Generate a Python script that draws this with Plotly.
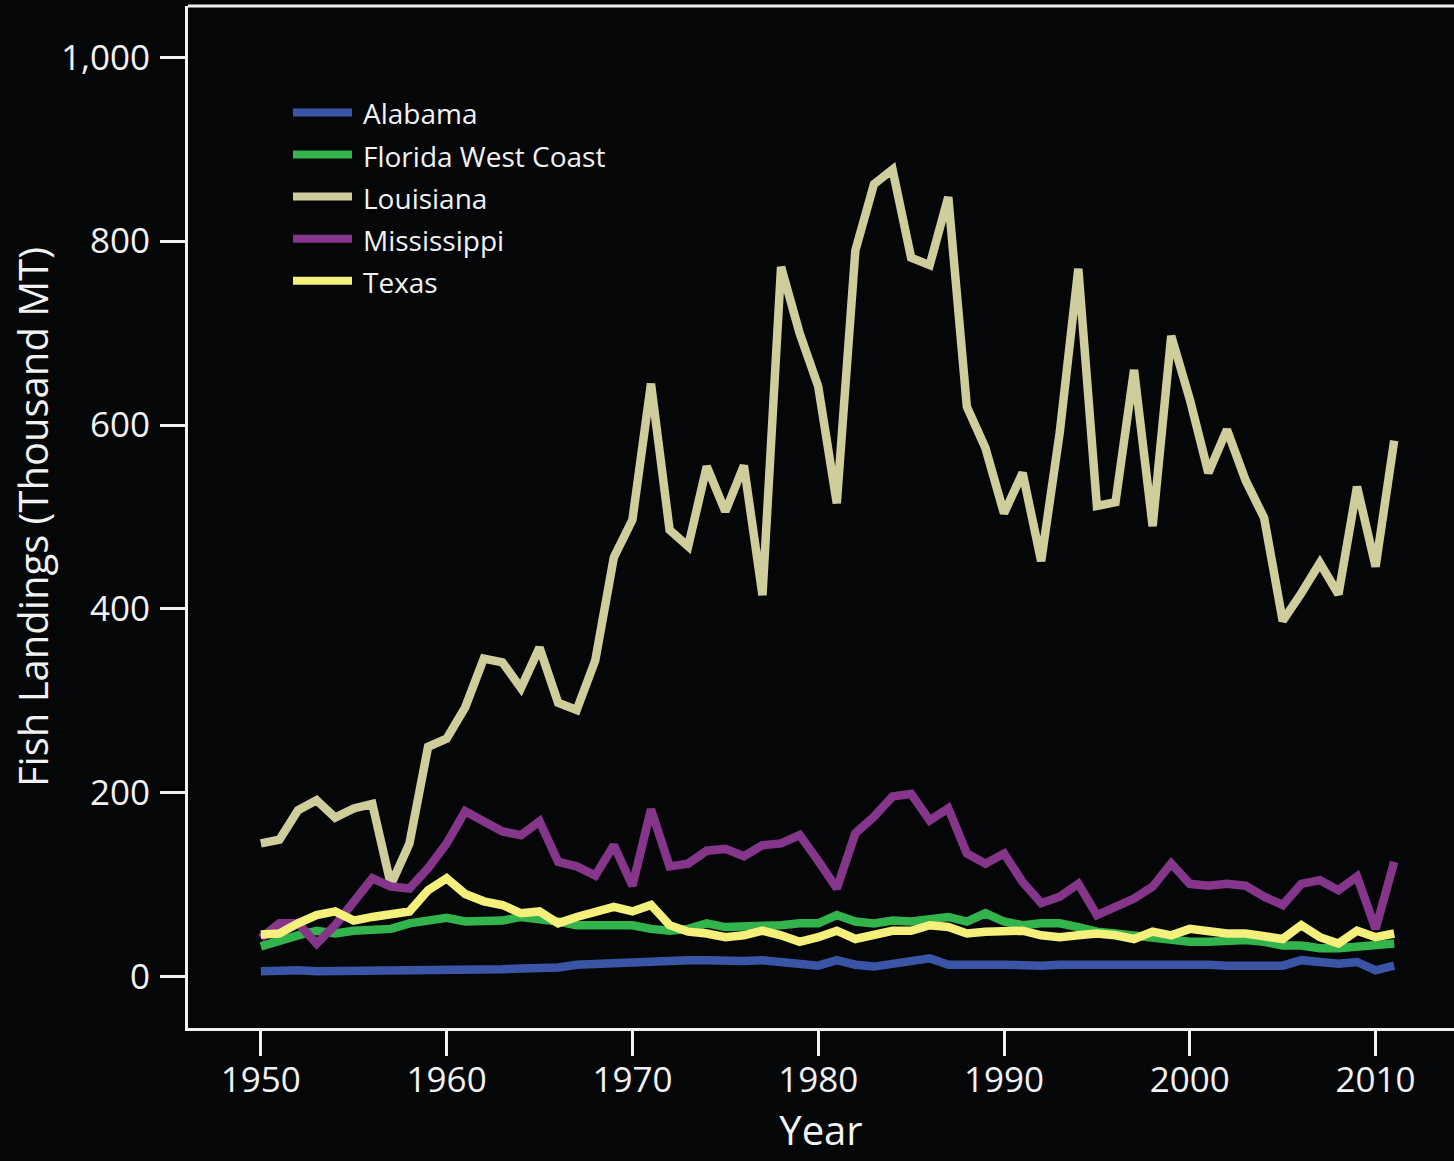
import plotly.graph_objects as go

# Gulf of Mexico fish landings by state, thousand metric tons
years = list(range(1950, 2012))

alabama = [6, 7, 7, 6, 6, 7, 7, 6, 6, 8, 7, 6, 6, 8, 9, 9, 10, 13, 14, 15,
           16, 18, 18, 18, 18, 17, 17, 18, 16, 15, 12, 18, 13, 11, 14, 15,
           20, 13, 12, 13, 13, 12, 12, 13, 13, 14, 14, 13, 14, 15, 14, 13,
           12, 13, 12, 12, 18, 16, 14, 16, 7, 12]

florida_west_coast = [33, 40, 45, 50, 47, 50, 52, 52, 58, 61, 64, 60, 60, 61,
                      65, 63, 60, 56, 56, 56, 56, 52, 50, 52, 58, 54, 54, 56,
                      56, 58, 58, 67, 60, 58, 61, 60, 63, 65, 60, 69, 60, 56,
                      58, 58, 54, 49, 47, 45, 41, 41, 38, 38, 40, 40, 38, 34,
                      34, 31, 31, 33, 33, 36]

louisiana = [145, 149, 181, 192, 173, 183, 188, 100, 145, 250, 259, 293, 346,
             342, 314, 358, 298, 290, 344, 456, 497, 645, 486, 468, 555, 506,
             556, 415, 772, 700, 642, 515, 790, 862, 878, 782, 774, 848, 620,
             575, 504, 548, 452, 592, 770, 512, 516, 660, 490, 697, 628, 548,
             595, 540, 499, 387, 417, 450, 416, 533, 446, 583]

mississippi = [42, 58, 58, 36, 56, 82, 107, 98, 96, 118, 145, 180, 169, 158,
               154, 169, 125, 120, 110, 143, 99, 182, 120, 123, 137, 139, 131,
               143, 145, 154, 126, 96, 156, 174, 196, 199, 170, 183, 134, 123,
               134, 103, 80, 87, 101, 67, 76, 85, 98, 123, 101, 99, 101, 99,
               87, 78, 101, 105, 94, 109, 52, 125]

texas = [46, 47, 58, 67, 71, 61, 65, 67, 71, 94, 107, 90, 82, 78, 69, 71, 58,
         65, 71, 76, 71, 78, 56, 49, 47, 43, 45, 50, 45, 38, 43, 50, 41, 45,
         50, 50, 56, 54, 47, 49, 50, 50, 45, 43, 45, 47, 45, 41, 49, 45, 52,
         49, 47, 47, 43, 41, 56, 43, 36, 50, 43, 47]

series_names = ["Alabama", "Florida West Coast", "Louisiana", "Mississippi", "Texas"]
series_values = [alabama, florida_west_coast, louisiana, mississippi, texas]
series_colors = ["#3b55a6", "#33b34c", "#cfcd9c", "#85358a", "#f5ef7c"]

y_tick_values = [0, 200, 400, 600, 800, 1000]
y_tick_labels = ["0", "200", "400", "600", "800", "1,000"]
x_tick_values = [1950, 1960, 1970, 1980, 1990, 2000, 2010]

BG = "#050608"
FG = "#f2f2f2"
FONT = "Open Sans"

fig = go.Figure()
for name, vals, color in zip(series_names, series_values, series_colors):
    fig.add_trace(go.Scatter(
        x=years, y=vals, mode="lines", name=name,
        line=dict(color=color, width=8.5),
        showlegend=False,
    ))

# Hand-built legend: wide colour swatches with labels beside them
W, H = 1454, 1161
M_L, M_R, M_T, M_B = 188, 0, 6, 133
plot_w = W - M_L - M_R
plot_h = H - M_T - M_B

def px_x(px):
    return (px - M_L) / plot_w

def px_y(py):
    return 1 - (py - M_T) / plot_h

legend_top = 112.4
legend_step = 42.1
for i, (name, color) in enumerate(zip(series_names, series_colors)):
    cy = legend_top + i * legend_step
    fig.add_shape(type="line", xref="paper", yref="paper",
                  x0=px_x(293), x1=px_x(352), y0=px_y(cy), y1=px_y(cy),
                  line=dict(color=color, width=8))
    fig.add_annotation(xref="paper", yref="paper", x=px_x(361), y=px_y(cy + 1),
                       text=name, showarrow=False, xanchor="left", yanchor="middle",
                       font=dict(family=FONT, size=28, color=FG))

# top edge of the frame
fig.add_shape(type="line", xref="paper", yref="paper", x0=0, x1=1, y0=1, y1=1,
              line=dict(color=FG, width=3))

fig.update_layout(
    width=W, height=H,
    margin=dict(l=M_L, r=M_R, t=M_T, b=M_B, pad=0),
    paper_bgcolor=BG, plot_bgcolor=BG,
    font=dict(family=FONT, color=FG),
    showlegend=False,
)

fig.update_xaxes(
    range=[1946.08, 2014.22],
    tickvals=x_tick_values,
    ticks="outside", ticklen=25, tickwidth=3, tickcolor=FG,
    ticklabelstandoff=-6,
    showline=True, linecolor=FG, linewidth=3,
    showgrid=False, zeroline=False,
    tickfont=dict(family=FONT, size=35, color=FG),
    title=dict(text="Year", font=dict(family=FONT, size=40, color=FG), standoff=16),
)
fig.update_yaxes(
    range=[-55.8, 1055.8],
    tickvals=y_tick_values, ticktext=y_tick_labels,
    ticks="outside", ticklen=25, tickwidth=3, tickcolor=FG,
    ticklabelstandoff=3,
    showline=True, linecolor=FG, linewidth=3,
    showgrid=False, zeroline=False,
    tickfont=dict(family=FONT, size=35, color=FG),
    title=dict(text="Fish Landings (Thousand MT)",
               font=dict(family=FONT, size=40, color=FG), standoff=0),
)

fig.write_html("out.html")
